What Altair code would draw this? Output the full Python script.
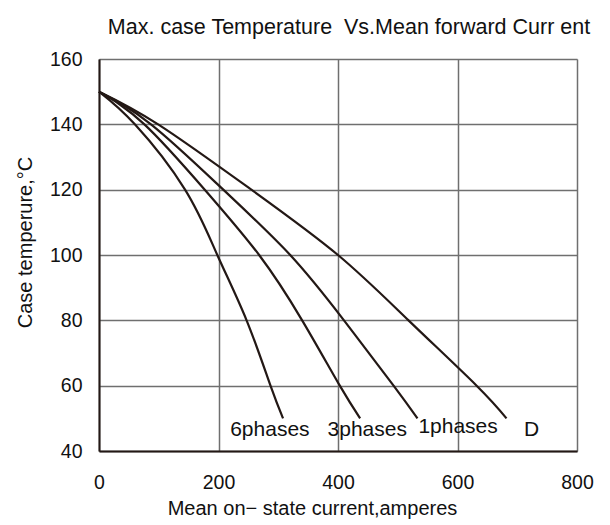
import altair as alt
import pandas as pd

temps = [150, 140, 120, 100, 80, 60, 50]
cur_6ph = [0, 60, 144, 198, 247, 287, 308]
cur_3ph = [0, 76, 177, 268, 340, 403, 437]
cur_1ph = [0, 87, 208, 320, 410, 493, 533]
cur_d = [0, 99, 255, 400, 518, 632, 682]

series = {"6phases": cur_6ph, "3phases": cur_3ph, "1phases": cur_1ph, "D": cur_d}

label_text = ["6phases", "3phases", "1phases", "D"]
label_x = [286, 449, 601, 724]
label_y = [46.5, 46.5, 47.3, 46.4]

rows = []
for name, xs in series.items():
    for x, t in zip(xs, temps):
        rows.append({"series": name, "current": x, "temp": t})
df = pd.DataFrame(rows)
labels = pd.DataFrame({"text": label_text, "current": label_x, "temp": label_y})

FONT = "Liberation Sans"
INK = "#231815"

xs = alt.Scale(domain=[0, 800], nice=False, zero=False)
ys = alt.Scale(domain=[40, 160], nice=False, zero=False)

lines = alt.Chart(df).mark_line(color=INK, strokeWidth=2.2, interpolate="natural").encode(
    x=alt.X("current:Q", scale=xs, axis=alt.Axis(
        values=[0, 200, 400, 600, 800], title="Mean on\u2212 state current,amperes",
        grid=True, gridColor="#6f6f6f", gridWidth=1.5, ticks=False, labelFlush=False,
        domainColor=INK, domainWidth=2, labelPadding=22, labelFontSize=19.5, labelFont=FONT,
        labelColor="#111", titleFont=FONT, titleFontSize=20, titleFontWeight="normal",
        titleColor="#111", titleX=213, titleY=57, titleBaseline="middle", titleAlign="center")),
    y=alt.Y("temp:Q", scale=ys, axis=alt.Axis(
        values=[40, 60, 80, 100, 120, 140, 160], title="Case temperure,\u00b0C",
        grid=True, gridColor="#6f6f6f", gridWidth=1.5, ticks=False, labelFlush=False,
        domainColor=INK, domainWidth=2, labelPadding=17, labelFontSize=19.5, labelFont=FONT,
        labelColor="#111", titleFont=FONT, titleFontSize=20, titleFontWeight="normal",
        titleColor="#111", titleX=-74, titleY=183, titleAngle=-90, titleBaseline="middle",
        titleAlign="center")),
    detail="series:N",
)

text = alt.Chart(labels).mark_text(font=FONT, fontSize=21, color="#111", baseline="middle", align="center").encode(
    x=alt.X("current:Q", scale=xs),
    y=alt.Y("temp:Q", scale=ys),
    text="text:N",
)

chart = (lines + text).properties(
    width=478, height=392,
    title=alt.TitleParams("Max. case Temperature \u00a0Vs.Mean forward Curr ent", font=FONT, fontSize=21.5,
                          fontWeight="normal", color="#111", anchor="middle", dx=11, offset=11),
    autosize=alt.AutoSizeParams(type="none"),
    padding={"left": 91, "top": 51, "right": 20, "bottom": 75},
).configure_view(stroke="#6f6f6f", strokeWidth=1.5).configure(background="white")

chart.save("out.html", embed_options={"renderer": "svg", "actions": False})
